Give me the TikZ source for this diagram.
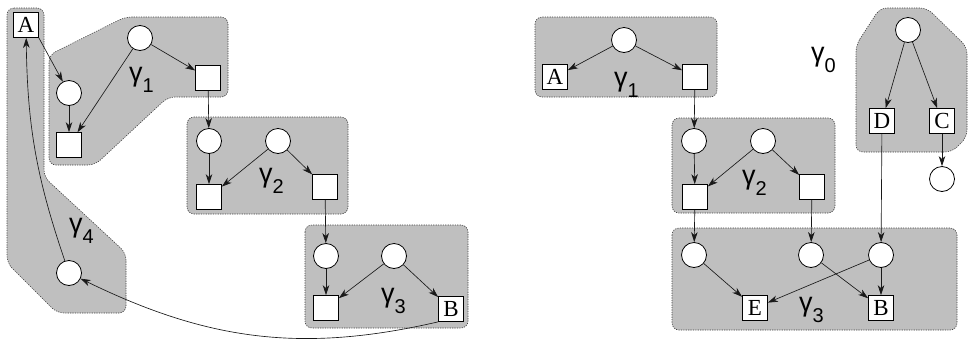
\documentclass[tikz,border=0pt]{standalone}
\usepackage{fontspec}
\setmainfont{Liberation Serif}
\newfontfamily\gfont{Liberation Sans}
\usetikzlibrary{arrows.meta}
% gamma label with a lowered index
\newcommand{\glab}[1]{{\fontsize{27}{27}\gfont γ\raisebox{-11pt}{\fontsize{20}{20}\selectfont #1}}}
\tikzset{
  region/.style={fill=black!25, draw=black!75, line width=0.6pt,
                 dash pattern=on 1.2pt off 1.2pt, rounded corners=7pt},
  vtx/.style={circle, draw, fill=white, line width=0.8pt,
              minimum size=25pt, inner sep=0pt},
  box/.style={rectangle, draw, fill=white, line width=0.7pt,
              minimum width=25pt, minimum height=25pt, inner sep=0pt,
              font=\fontsize{23}{23}\selectfont},
  arc/.style={draw=black!90, line width=0.65pt,
              -{Stealth[length=10pt,width=6.5pt,inset=3pt]}},
  glabel/.style={anchor=base west, inner sep=0pt}
}
\begin{document}
\begin{tikzpicture}[x=1pt,y=1pt]
\useasboundingbox (0,0) rectangle (969,-338);

% ---------- left part: shaded groups ----------
\path[region] (49,-55) -- (125,-17) -- (228,-17) -- (228,-97) -- (168,-97)
   -- (95,-165) -- (49,-165) -- cycle;
\path[region] (7,-8) -- (44,-8) -- (44,-177) -- (126,-253) -- (126,-313)
   -- (57,-313) -- (7,-263) -- cycle;
\path[region] (187,-117) rectangle (348,-214);
\path[region] (305,-225) rectangle (468,-328);

% ---------- left part: vertices ----------
\node[box] (A) at (26,-25) {A};
\node[vtx] (l1) at (69,-93) {};
\node[vtx] (t1) at (140,-38) {};
\node[box] (s1) at (69,-145) {};
\node[box] (r1) at (208,-78) {};

\node[vtx] (l2) at (209,-141) {};
\node[vtx] (t2) at (278,-141) {};
\node[box] (s2) at (209,-197) {};
\node[box] (r2) at (325,-187) {};

\node[vtx] (l3) at (326,-256) {};
\node[vtx] (t3) at (394,-256) {};
\node[box] (s3) at (326,-308) {};
\node[box] (B) at (451,-309) {B};

\node[vtx] (g4) at (69,-273) {};

% ---------- left part: labels ----------
\node[glabel] (lg1) at (129,-81) {\glab{1}};
\node[glabel] (lg2) at (259,-182) {\glab{2}};
\node[glabel] (lg3) at (381,-302) {\glab{3}};
\node[glabel] (lg4) at (69,-232) {\glab{4}};

% ---------- left part: edges ----------
\draw[arc] (A.south east) -- (l1);
\draw[arc] (t1) -- (r1);
\draw[arc] (t1) -- (s1);
\draw[arc] (l1) -- (s1);
\draw[arc] (r1) -- (l2);
\draw[arc] (t2) -- (s2);
\draw[arc] (t2) -- (r2);
\draw[arc] (l2) -- (s2);
\draw[arc] (r2) -- (l3);
\draw[arc] (t3) -- (s3);
\draw[arc] (t3) -- (B);
\draw[arc] (l3) -- (s3);
\draw[arc] (B.south west) to[out=193, in=-26] (g4);
\draw[arc] (g4) to[bend left=9] (A);

% ---------- right part: shaded groups ----------
\path[region] (535,-17) rectangle (717,-97);
\path[region] (672,-118) rectangle (835,-213);
\path[region] (672,-228) rectangle (957,-330);
\path[region] (856,-45) -- (880,-8) -- (927,-8) -- (967,-47) -- (967,-137)
   -- (952,-152) -- (856,-152) -- cycle;

% ---------- right part: vertices ----------
\node[vtx] (u1) at (624,-40) {};
\node[box] (A2) at (555,-77) {A};
\node[box] (v1) at (695,-77) {};

\node[vtx] (p2) at (694,-141) {};
\node[vtx] (u2) at (763,-141) {};
\node[box] (q2) at (695,-197) {};
\node[box] (v2) at (812,-187) {};

\node[vtx] (p3) at (694,-255) {};
\node[vtx] (m3) at (811,-255) {};
\node[vtx] (n3) at (881,-255) {};
\node[box] (E) at (755,-308) {E};
\node[box] (B2) at (881,-308) {B};

\node[vtx] (u0) at (908,-30) {};
\node[box] (D) at (882,-121) {D};
\node[box] (C) at (942,-121) {C};
\node[vtx] (c0) at (942,-179) {};

% ---------- right part: labels ----------
\node[glabel] (rg1) at (614,-86) {\glab{1}};
\node[glabel] (rg2) at (742,-184) {\glab{2}};
\node[glabel] (rg3) at (799,-311) {\glab{3}};
\node[glabel] (rg0) at (811,-61) {\glab{0}};

% ---------- right part: edges ----------
\draw[arc] (u1) -- (A2);
\draw[arc] (u1) -- (v1);
\draw[arc] (v1) -- (p2);
\draw[arc] (u2) -- (q2);
\draw[arc] (u2) -- (v2);
\draw[arc] (p2) -- (q2);
\draw[arc] (q2) -- (p3);
\draw[arc] (v2) -- (m3);
\draw[arc] (p3) -- (E);
\draw[arc] (m3) -- (B2);
\draw[arc] (n3) -- (E);
\draw[arc] (n3) -- (B2);
\draw[arc] (u0) -- (D);
\draw[arc] (u0) -- (C);
\draw[arc] (C) -- (c0);
\draw[arc] (D) -- (n3);
\end{tikzpicture}
\end{document}
